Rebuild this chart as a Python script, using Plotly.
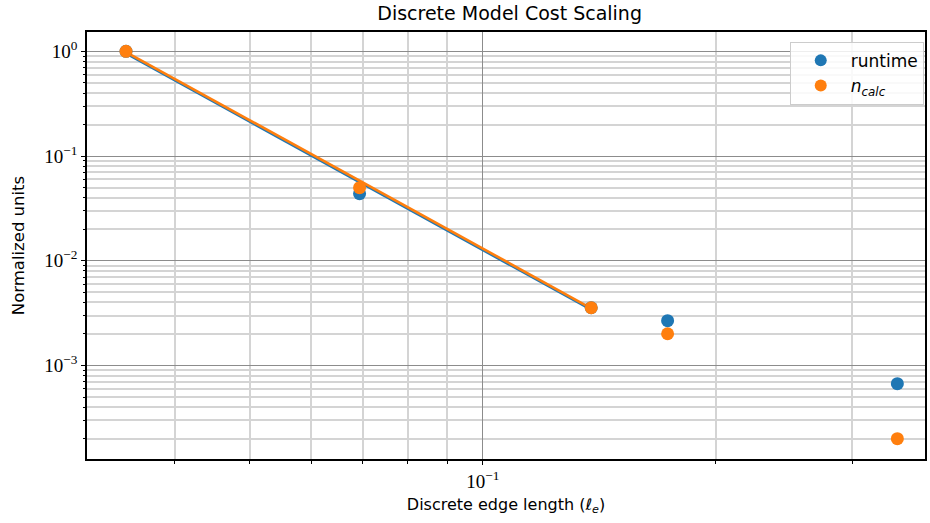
import plotly.graph_objects as go

# Data
edge_length = [0.0346, 0.0693, 0.138, 0.1732, 0.343]
runtime = [1.0, 0.0437, 0.00356, 0.00268, 0.00067]
n_calc = [1.0, 0.0499, 0.00356, 0.00201, 0.00020]

# Power-law fit lines over first three points
fit_x = [0.0346, 0.138]
runtime_fit = [0.955, 0.00341]
n_calc_fit = [0.985, 0.00352]

x_major = [0.1]
x_major_text = ["10<sup>\u22121</sup>"]
x_minor = [0.04, 0.05, 0.06, 0.07, 0.08, 0.09, 0.2, 0.3]
y_major = [1, 0.1, 0.01, 0.001]
y_major_text = ["10<sup>0</sup>", "10<sup>\u22121</sup>", "10<sup>\u22122</sup>", "10<sup>\u22123</sup>"]
y_minor = [m * 10.0 ** e for e in (-4, -3, -2, -1) for m in range(2, 10)]

BLUE = "#1f77b4"
ORANGE = "#ff7f0e"
SANS = "DejaVu Sans"
SERIF = "Liberation Serif"

fig = go.Figure()
fig.add_trace(go.Scatter(x=fit_x, y=runtime_fit, mode="lines",
                         line=dict(color=BLUE, width=2.6), showlegend=False, hoverinfo="skip"))
fig.add_trace(go.Scatter(x=fit_x, y=n_calc_fit, mode="lines",
                         line=dict(color=ORANGE, width=2.6), showlegend=False, hoverinfo="skip"))
fig.add_trace(go.Scatter(x=edge_length, y=runtime, mode="markers", name="runtime",
                         marker=dict(color=BLUE, size=13)))
fig.add_trace(go.Scatter(x=edge_length, y=n_calc, mode="markers",
                         name="<i>n</i><sub><i>calc</i></sub>",
                         marker=dict(color=ORANGE, size=13)))

axis_common = dict(
    type="log",
    showline=True, linecolor="black", linewidth=1.5, mirror=True,
    ticks="outside", ticklen=4, tickwidth=1, tickcolor="black",
    gridcolor="#8c8c8c", gridwidth=1.2,
    zeroline=False,
    tickfont=dict(family=SERIF, size=19, color="black"),
)

fig.update_layout(
    width=930, height=523,
    margin=dict(l=87, r=3, t=32, b=64),
    plot_bgcolor="white", paper_bgcolor="white",
    title=dict(text="Discrete Model Cost Scaling", x=0.548, xanchor="center",
               y=0.975, yanchor="middle",
               font=dict(family=SANS, size=19, color="black")),
    xaxis=dict(
        axis_common,
        range=[-1.5113, -0.429],
        tickvals=x_major, ticktext=x_major_text,
        minor=dict(tickvals=x_minor, showgrid=True, gridcolor="#d4d4d4", gridwidth=1.5,
                   ticks="outside", ticklen=3, tickcolor="black"),
        title=dict(text="Discrete edge length (<i>\u2113</i><sub><i>e</i></sub>)",
                   font=dict(family=SANS, size=16, color="black"), standoff=8),
    ),
    yaxis=dict(
        axis_common,
        range=[-3.893, 0.185],
        tickvals=y_major, ticktext=y_major_text,
        minor=dict(tickvals=y_minor, showgrid=True, gridcolor="#d4d4d4", gridwidth=1.5,
                   ticks="outside", ticklen=2.5, tickcolor="black"),
        title=dict(text="Normalized units",
                   font=dict(family=SANS, size=16.5, color="black"), standoff=16),
    ),
    legend=dict(x=0.9985, y=0.977, xanchor="right", yanchor="top",
                bgcolor="rgba(255,255,255,0.85)", bordercolor="#cccccc", borderwidth=1,
                font=dict(family=SANS, size=17, color="black"),
                itemsizing="constant", itemwidth=50),
    showlegend=True,
)

fig.write_html("out.html")
